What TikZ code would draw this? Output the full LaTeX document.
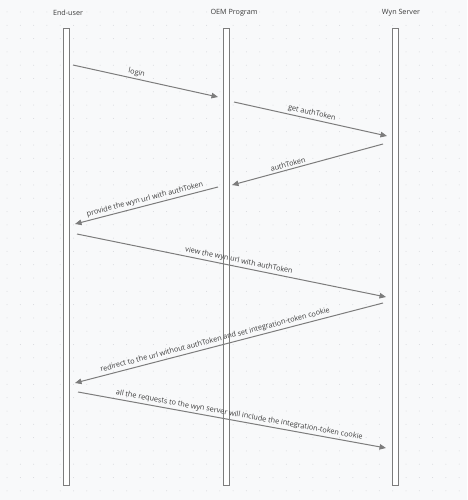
\documentclass[tikz,border=0pt]{standalone}
\usepackage{fontspec}
\setmainfont{Open Sans}
\usetikzlibrary{arrows.meta}

\definecolor{bgGray}{HTML}{F8F9FA}
\definecolor{dotGray}{HTML}{D6D8DC}
\definecolor{lineGray}{HTML}{7C7C7C}
\definecolor{textGray}{HTML}{3C3C3C}

\newcommand{\userX}{66}
\newcommand{\oemX}{226}
\newcommand{\wynX}{395}
\newcommand{\barTop}{29}
\newcommand{\barBot}{485}
\newcommand{\barHalf}{3}
\newcommand{\msgThick}{1pt}

\tikzset{
  lifebar/.style={draw=lineGray, line width=1pt, fill=white},
  actor/.style={text=textGray, font=\fontsize{7.2}{8.5}\selectfont, inner sep=0pt},
  msg/.style={draw=lineGray, line width=\msgThick, -{Triangle[length=6.5pt,width=5.5pt]}},
  msglabel/.style={text=textGray, font=\fontsize{7.3}{8.5}\selectfont, sloped, above, inner sep=2pt}
}

\begin{document}
\begin{tikzpicture}[x=1pt, y=-1pt]

  % Background:
  \fill[bgGray] (0,0) rectangle (467,500);
  \useasboundingbox (0,0) rectangle (467,500);
  \foreach \i in {0,...,35} {
    \foreach \j in {0,...,37} {
      \fill[dotGray] (7+\i*13.3, 12+\j*13.3) circle (0.5pt);
    }
  }

  % Actors:
  \node[actor] (user) at (68, 13) {End-user};
  \node[actor] (oem)  at (234,13) {OEM Program};
  \node[actor] (wyn)  at (401,13) {Wyn Server};

  % Lifelines:
  \draw[lifebar] (\userX-\barHalf, \barTop) rectangle (\userX+\barHalf, \barBot);
  \draw[lifebar] (\oemX -\barHalf, \barTop) rectangle (\oemX +\barHalf, \barBot);
  \draw[lifebar] (\wynX -\barHalf, \barTop) rectangle (\wynX +\barHalf, \barBot);

  % Message ends:
  \coordinate (loginS) at (73, 65);   \coordinate (loginE) at (218, 97);
  \coordinate (getS)   at (234,102);  \coordinate (getE)   at (387,136);
  \coordinate (tokS)   at (383,144);  \coordinate (tokE)   at (232,185);
  \coordinate (provS)  at (218,187);  \coordinate (provE)  at (75, 224);
  \coordinate (viewS)  at (77, 234);  \coordinate (viewE)  at (386,297);
  \coordinate (redS)   at (383,303);  \coordinate (redE)   at (75, 383);
  \coordinate (allS)   at (78, 392);  \coordinate (allE)   at (386,448);

  % Messages:
  \draw[msg] (loginS) -- node[msglabel, pos=0.43] {login} (loginE);
  \draw[msg] (getS)   -- node[msglabel] {get authToken} (getE);
  \draw[msg] (tokS)   -- node[msglabel, pos=0.62] {authToken} (tokE);
  \draw[msg] (provS)  -- node[msglabel] {provide the wyn url with authToken} (provE);
  \draw[msg] (viewS)  -- node[msglabel, pos=0.52] {view the wyn url with authToken} (viewE);
  \draw[msg] (redS)   -- node[msglabel, pos=0.54] {redirect to the url without authToken and set integration-token cookie} (redE);
  \draw[msg] (allS)   -- node[msglabel, pos=0.52] {all the requests to the wyn server will include the integration-token cookie} (allE);

\end{tikzpicture}
\end{document}
